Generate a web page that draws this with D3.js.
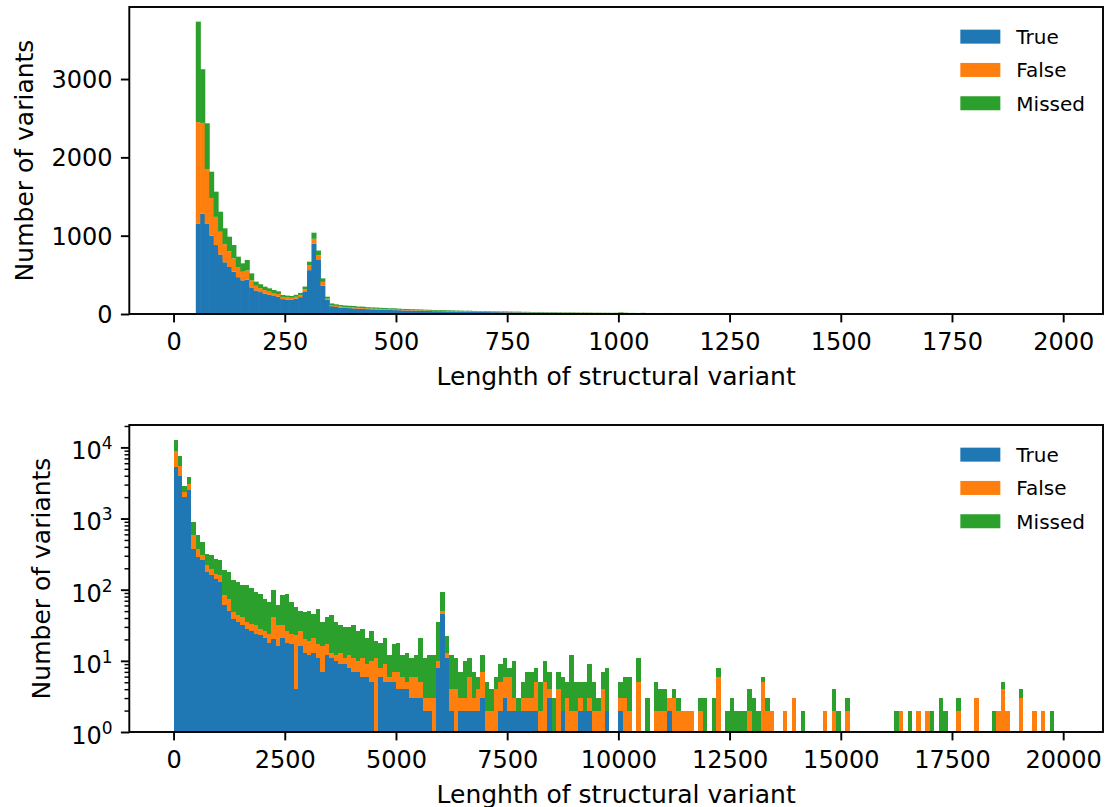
<!DOCTYPE html>
<html lang="en">
<head>
    <meta charset="UTF-8">
    <title>Structural variant lengths</title>
    <script src="https://cdnjs.cloudflare.com/ajax/libs/d3/7.8.5/d3.min.js"></script>
    <style>
        body { margin: 0; background: #fff; }
        text { font-family: "DejaVu Sans", sans-serif; fill: #000; }
    </style>
</head>
<body>
<div id="vis"></div>
<script>

    // ---- data ----
    var seriesNames = ["True", "False", "Missed"];

    // top panel: bins of 10 starting at 0
    var topBinWidth = 10;
    var topTrue = [
        0, 0, 0, 0, 0, 1150, 1280, 1150, 1000, 880,
        760, 660, 600, 540, 470, 430, 440, 340, 300, 280,
        260, 245, 230, 220, 190, 185, 185, 195, 215, 290,
        560, 900, 690, 360, 180, 100, 90, 82, 78, 75,
        72, 68, 66, 62, 60, 58, 57, 54, 52, 50,
        49, 46, 45, 43, 42, 40, 39, 38, 36, 36,
        35, 33, 33, 31, 30, 29, 29, 27, 27, 26,
        25, 24, 24, 23, 22, 22, 21, 21, 20, 19,
        19, 18, 18, 17, 17, 16, 16, 15, 15, 14,
        14, 14, 13, 13, 12, 12, 12, 11, 11, 11,
        16, 12, 10, 10, 9, 10, 9, 9, 8, 8,
        9, 8, 7, 7, 7, 7, 6, 6, 6, 6,
        7, 5, 5, 5, 5, 6, 4, 5, 4, 4,
        5, 4, 4, 3, 4, 3, 3, 2, 6, 2,
        3, 2, 2, 2, 5, 1, 4, 1, 2, 1,
        2, 1, 1, 1, 4, 1, 1, 0, 1, 1,
        0, 1, 0, 1, 0, 1, 0, 0, 1, 0,
        0, 1, 0, 3, 1, 0, 0, 1, 0, 0,
        3, 1, 0, 0, 4, 0, 0, 0, 1, 0,
        0, 0, 1, 2, 0, 0, 0, 0, 0
    ];
    var topFalse = [
        0, 0, 0, 0, 0, 1300, 1160, 700, 480, 360,
        290, 230, 200, 170, 130, 110, 115, 90, 60, 50,
        45, 40, 38, 35, 28, 25, 22, 25, 25, 25,
        60, 60, 60, 50, 15, 15, 14, 13, 12, 12,
        10, 10, 10, 9, 9, 10, 8, 8, 8, 8,
        7, 7, 7, 6, 6, 6, 6, 5, 5, 5,
        6, 5, 4, 5, 4, 4, 5, 4, 4, 4,
        3, 4, 3, 3, 4, 3, 3, 3, 3, 3,
        2, 3, 3, 2, 2, 3, 2, 2, 2, 2,
        2, 2, 2, 1, 2, 2, 1, 2, 1, 2,
        3, 2, 1, 2, 1, 2, 1, 1, 1, 2,
        1, 1, 1, 1, 1, 1, 1, 1, 1, 1,
        1, 1, 1, 1, 0, 1, 1, 0, 1, 1,
        1, 0, 1, 1, 0, 1, 0, 1, 2, 1,
        0, 1, 0, 0, 1, 0, 1, 1, 0, 0,
        1, 0, 0, 0, 2, 0, 0, 0, 1, 0,
        0, 0, 0, 0, 0, 0, 0, 0, 0, 0,
        0, 0, 0, 1, 0, 0, 0, 0, 0, 0,
        0, 0, 0, 0, 1, 0, 0, 0, 0, 0,
        0, 0, 0, 0, 0, 0, 0, 0, 0
    ];
    var topMissed = [
        0, 0, 0, 0, 0, 1283, 685, 585, 337, 322,
        256, 204, 187, 171, 132, 107, 135, 89, 53, 50,
        44, 43, 38, 35, 25, 25, 23, 25, 30, 35,
        48, 78, 60, 45, 26, 20, 20, 19, 18, 18,
        20, 17, 18, 16, 15, 15, 14, 14, 13, 15,
        13, 12, 12, 12, 11, 12, 10, 11, 10, 9,
        10, 9, 9, 8, 9, 8, 8, 8, 7, 7,
        8, 7, 7, 6, 7, 6, 6, 6, 5, 6,
        5, 5, 5, 5, 4, 5, 4, 4, 4, 5,
        4, 3, 4, 4, 3, 3, 3, 3, 3, 3,
        5, 3, 3, 2, 3, 3, 2, 3, 2, 2,
        3, 2, 2, 2, 2, 2, 2, 2, 1, 2,
        2, 2, 1, 2, 2, 2, 1, 2, 1, 1,
        2, 1, 1, 1, 1, 1, 2, 1, 3, 0,
        1, 1, 1, 1, 3, 1, 3, 0, 1, 1,
        1, 0, 1, 0, 3, 0, 1, 1, 0, 1,
        0, 0, 1, 0, 0, 0, 1, 0, 0, 0,
        1, 0, 0, 3, 0, 0, 0, 0, 0, 1,
        3, 0, 0, 1, 3, 0, 0, 0, 0, 0,
        0, 0, 0, 3, 0, 0, 0, 0, 0
    ];

    // bottom panel: bins of 100 starting at 0, log scale
    var botBinWidth = 100;
    var botTrue = [
        5260, 4020, 2000, 2480, 377, 288, 258, 177, 159, 143,
        128, 60, 51, 39, 35, 32, 28, 26, 24, 23,
        21, 18, 20, 16, 21, 18, 17, 4, 16, 13,
        12, 13, 11, 7, 12, 11, 10, 9, 9, 8,
        7, 7, 6, 6, 5, 1, 6, 5, 5, 5,
        4, 4, 4, 3, 3, 3, 2, 2, 1, 8,
        46, 11, 2, 1, 2, 2, 2, 2, 2, 3,
        1, 1, 1, 2, 3, 2, 2, 2, 2, 2,
        2, 2, 1, 1, 3, 1, 1, 2, 1, 1,
        1, 2, 2, 2, 1, 1, 1, 2, 0, 0,
        2, 1, 1, 0, 1, 0, 0, 0, 1, 1,
        1, 2, 1, 0, 0, 0, 1, 0, 0, 0,
        0, 0, 0, 0, 0, 0, 0, 0, 0, 0,
        0, 0, 0, 0, 0, 0, 0, 0, 0, 0,
        0, 0, 0, 0, 0, 0, 0, 0, 0, 0,
        0, 0, 0, 0, 0, 0, 0, 0, 0, 0,
        0, 0, 0, 0, 0, 0, 0, 0, 0, 0,
        0, 0, 0, 0, 0, 0, 0, 0, 0, 0,
        0, 0, 0, 0, 0, 0, 0, 0, 0, 0,
        0, 0, 0, 0, 0, 0, 0, 0, 0
    ];
    var botFalse = [
        3760, 1540, 350, 600, 203, 89, 46, 43, 39, 25,
        31, 23, 24, 10, 9, 9, 7, 7, 8, 5,
        5, 6, 21, 16, 11, 8, 7, 19, 10, 7,
        7, 8, 6, 9, 5, 2, 2, 4, 2, 4,
        4, 3, 5, 3, 5, 10, 2, 4, 1, 2,
        3, 2, 1, 3, 3, 2, 1, 1, 2, 2,
        5, 2, 2, 3, 1, 1, 4, 1, 2, 4,
        1, 1, 3, 3, 3, 4, 1, 0, 1, 1,
        1, 3, 1, 4, 1, 0, 3, 0, 2, 1,
        1, 1, 0, 1, 1, 1, 3, 0, 0, 0,
        1, 2, 1, 0, 4, 0, 1, 0, 1, 1,
        1, 1, 2, 2, 2, 2, 1, 0, 2, 0,
        0, 0, 6, 0, 0, 0, 1, 1, 0, 2,
        1, 1, 5, 2, 2, 0, 0, 2, 0, 3,
        0, 0, 0, 0, 0, 0, 2, 0, 2, 0,
        0, 2, 0, 0, 0, 0, 0, 0, 0, 0,
        0, 0, 1, 2, 0, 0, 0, 2, 0, 2,
        1, 0, 0, 1, 0, 0, 2, 0, 0, 0,
        3, 0, 0, 0, 0, 2, 4, 2, 0, 0,
        3, 0, 0, 2, 0, 2, 0, 0, 0
    ];
    var botMissed = [
        3840, 2110, 560, 730, 310, 203, 164, 101, 106, 105,
        99, 104, 102, 86, 84, 74, 80, 71, 61, 60,
        49, 43, 57, 28, 51, 62, 43, 34, 25, 29,
        32, 25, 37, 19, 24, 31, 23, 19, 19, 18,
        21, 16, 17, 12, 16, 8, 10, 12, 6, 10,
        11, 6, 8, 5, 6, 16, 8, 9, 9, 25,
        42, 9, 8, 7, 4, 7, 5, 4, 2, 5,
        3, 2, 2, 4, 5, 2, 7, 1, 2, 4,
        4, 3, 3, 5, 3, 2, 3, 4, 2, 10,
        3, 2, 3, 6, 3, 1, 3, 6, 0, 0,
        2, 3, 4, 0, 6, 0, 2, 0, 3, 2,
        2, 0, 1, 1, 0, 0, 0, 0, 1, 3,
        0, 3, 2, 0, 2, 3, 1, 1, 2, 2,
        2, 1, 1, 1, 0, 0, 0, 0, 0, 0,
        0, 2, 0, 0, 0, 0, 0, 0, 2, 2,
        0, 1, 0, 0, 0, 0, 0, 0, 0, 0,
        0, 0, 1, 0, 0, 2, 0, 0, 0, 0,
        1, 0, 3, 1, 0, 0, 1, 0, 0, 0,
        0, 0, 0, 0, 2, 0, 1, 0, 0, 0,
        1, 0, 0, 0, 0, 0, 0, 2, 0
    ];

    var topXTicks = [0, 250, 500, 750, 1000, 1250, 1500, 1750, 2000];
    var topYTicks = [0, 1000, 2000, 3000];
    var botXTicks = [0, 2500, 5000, 7500, 10000, 12500, 15000, 17500, 20000];
    var botYTicks = [1, 10, 100, 1000, 10000];
    var xLabelText = "Lenghth of structural variant";
    var yLabelText = "Number of variants";

    // ---- layout / style ----
    var colors = ["#1f77b4", "#ff7f0e", "#2ca02c"];
    var lw = 1.92;          // spine + major tick width
    var tickLen = 8.4;
    var tickPad = 8.4;
    var fontSize = 24;
    var labelFont = 25;
    var legendFont = 20;

    var svg = d3.select("#vis")
        .append("svg")
          .attr("width", 1105)
          .attr("height", 807);

    var topBox = {left: 129.3, right: 1103, top: 7, bottom: 314};
    var botBox = {left: 129.3, right: 1103, top: 425, bottom: 732};

    function stackBins(series, bw) {
        var out = [];
        for (var i = 0; i < series[0].length; i++) {
            var cum = 0;
            for (var s = 0; s < series.length; s++) {
                var v = series[s][i];
                out.push({s: s, x0: i * bw, x1: (i + 1) * bw, y0: cum, y1: cum + v});
                cum += v;
            }
        }
        return out;
    }

    function drawPanel(box, series, bw, isLog, xTicks, yTicks, yLabelX, id) {
        var bins = stackBins(series, bw);
        var hi = series[0].length * bw;
        var lo = 0;
        var m = 0.05 * (hi - lo);

        var x = d3.scaleLinear()
            .domain([lo - m, hi + m])
            .range([box.left, box.right]);

        var maxY = d3.max(bins, function(d) { return d.y1; });
        var y;
        if (isLog) {
            y = d3.scaleLog()
                .domain([1, Math.pow(10, Math.log10(maxY) * 1.05)])
                .range([box.bottom, box.top]);
        } else {
            y = d3.scaleLinear()
                .domain([0, maxY * 1.05])
                .range([box.bottom, box.top]);
        }

        svg.append("clipPath")
            .attr("id", id)
          .append("rect")
            .attr("x", box.left)
            .attr("y", box.top)
            .attr("width", box.right - box.left)
            .attr("height", box.bottom - box.top);

        var g = svg.append("g").attr("clip-path", "url(#" + id + ")");

        var visible = bins.filter(function(d) {
            var b = isLog ? Math.max(d.y0, 1) : d.y0;
            return d.y1 > b;
        });

        // linear panel: antialiased so tiny tail bars still show faintly;
        // a small overlap hides seams between neighbouring bins
        var overlap = isLog ? 0 : 0.6;

        g.selectAll(".bar")
            .data(visible)
            .enter()
            .append("rect")
              .attr("class", "bar")
              .attr("x", function(d) { return x(d.x0); })
              .attr("width", function(d) { return x(d.x1) - x(d.x0) + overlap; })
              .attr("y", function(d) { return y(d.y1); })
              .attr("height", function(d) {
                  var b = isLog ? Math.max(d.y0, 1) : d.y0;
                  return y(b) - y(d.y1);
              })
              .attr("fill", function(d) { return colors[d.s]; })
              .attr("shape-rendering", isLog ? "crispEdges" : "auto");

        // x axis
        var xAxis = d3.axisBottom(x)
            .tickValues(xTicks)
            .tickSize(tickLen)
            .tickPadding(tickPad)
            .tickFormat(d3.format("d"));

        var gx = svg.append("g")
            .attr("transform", "translate(0," + box.bottom + ")")
            .call(xAxis);
        gx.select(".domain").remove();
        gx.selectAll(".tick line").attr("stroke", "#000").attr("stroke-width", lw);
        gx.selectAll(".tick text")
            .attr("font-size", fontSize)
            .attr("font-family", "DejaVu Sans")
            .attr("fill", "#000")
            .attr("dy", null)
            .attr("y", tickLen + tickPad + 19.3);

        // y axis
        if (isLog) {
            var minor = [];
            var top = y.domain()[1];
            for (var dec = 1; dec <= 10000; dec *= 10) {
                for (var k = 2; k <= 9; k++) {
                    if (k * dec <= top) minor.push(k * dec);
                }
            }
            var gm = svg.append("g")
                .attr("transform", "translate(" + box.left + ",0)")
                .call(d3.axisLeft(y).tickValues(minor).tickSize(4.8).tickFormat(""));
            gm.select(".domain").remove();
            gm.selectAll(".tick line").attr("stroke", "#000").attr("stroke-width", 1.44);

            var gy = svg.append("g")
                .attr("transform", "translate(" + box.left + ",0)")
                .call(d3.axisLeft(y).tickValues(yTicks).tickSize(tickLen).tickFormat(""));
            gy.select(".domain").remove();
            gy.selectAll(".tick line").attr("stroke", "#000").attr("stroke-width", lw);
            gy.selectAll(".tick text").remove();
            gy.selectAll(".tick").each(function(d) {
                var t = d3.select(this).append("text")
                    .attr("x", -(tickLen + tickPad))
                    .attr("y", 11.3)
                    .attr("text-anchor", "end")
                    .attr("font-size", fontSize)
                    .attr("fill", "#000");
                t.append("tspan").text("10");
                t.append("tspan")
                    .attr("font-size", 17)
                    .attr("dy", -10)
                    .text(Math.round(Math.log10(d)));
            });
        } else {
            var gy2 = svg.append("g")
                .attr("transform", "translate(" + box.left + ",0)")
                .call(d3.axisLeft(y).tickValues(yTicks).tickSize(tickLen).tickPadding(tickPad).tickFormat(d3.format("d")));
            gy2.select(".domain").remove();
            gy2.selectAll(".tick line").attr("stroke", "#000").attr("stroke-width", lw);
            gy2.selectAll(".tick text")
                .attr("font-size", fontSize)
                .attr("font-family", "DejaVu Sans")
                .attr("fill", "#000")
                .attr("dy", "0.36em");
        }

        // frame (spines)
        svg.append("rect")
            .attr("x", box.left)
            .attr("y", box.top)
            .attr("width", box.right - box.left)
            .attr("height", box.bottom - box.top)
            .attr("fill", "none")
            .attr("stroke", "#000")
            .attr("stroke-width", lw);

        // labels
        svg.append("text")
            .attr("x", (box.left + box.right) / 2)
            .attr("y", box.bottom + 70.5)
            .attr("text-anchor", "middle")
            .attr("font-size", labelFont)
            .text(xLabelText);

        svg.append("text")
            .attr("transform", "translate(" + yLabelX + "," + ((box.top + box.bottom) / 2) + ") rotate(-90)")
            .attr("text-anchor", "middle")
            .attr("font-size", labelFont)
            .text(yLabelText);

        // legend
        var leg = svg.append("g");
        var texts = [];
        seriesNames.forEach(function(name, i) {
            var t = leg.append("text")
                .attr("font-size", legendFont)
                .text(name);
            texts.push(t);
        });
        var maxW = d3.max(texts, function(t) { return t.node().getComputedTextLength(); });
        var textX = box.right - 10 - 8 - maxW;
        var patchX = textX - 16 - 40;
        texts.forEach(function(t, i) {
            var cy = box.top + 18 + 11.65 + i * 33.3;
            t.attr("x", textX).attr("y", cy + 7.3);
            leg.append("rect")
                .attr("x", patchX)
                .attr("y", cy - 7)
                .attr("width", 40)
                .attr("height", 14)
                .attr("fill", colors[i]);
        });
    }

    drawPanel(topBox, [topTrue, topFalse, topMissed], topBinWidth, false,
              topXTicks, topYTicks, 33, "clipTop");
    drawPanel(botBox, [botTrue, botFalse, botMissed], botBinWidth, true,
              botXTicks, botYTicks, 50, "clipBot");

</script>
</body>
</html>
